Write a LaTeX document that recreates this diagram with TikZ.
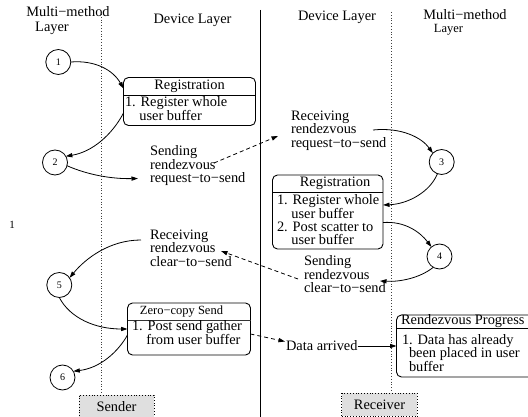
\documentclass[tikz,border=0pt]{standalone}
\usepackage{fontspec}
\setmainfont{Liberation Serif}
\usetikzlibrary{arrows.meta,calc}
\begin{document}
\begin{tikzpicture}[x=1pt,y=-1pt,
  every node/.style={inner sep=0pt, outer sep=0pt},
  txt/.style={font={\fontsize{14.4}{13.3}\selectfont}, align=left, anchor=north west},
  hdr/.style={font={\fontsize{14.4}{13.3}\selectfont}},
  smalltxt/.style={font={\fontsize{12.5}{12}\selectfont}},
  num/.style={circle, draw, line width=0.8pt, minimum size=25pt, font={\fontsize{10}{10}\selectfont}},
  box/.style={draw, line width=0.9pt, rounded corners=5pt, anchor=north west},
  arr/.style={line width=0.8pt, -{Triangle[length=6.5pt,width=4.2pt]}},
  darr/.style={arr, dash pattern=on 4pt off 3pt},
  sepline/.style={dotted, line width=0.8pt, black!75},
  tagbox/.style={draw, dotted, fill=gray!25, line width=0.8pt, anchor=north west, minimum height=23pt, font={\fontsize{14.4}{13}\selectfont}}
]
\useasboundingbox (0,0) rectangle (528,417);

% separators
\coordinate (ltop) at (101,14);
\coordinate (lbot) at (101,395);
\coordinate (mtop) at (260,10);
\coordinate (mbot) at (260,420);
\coordinate (rtop) at (391.5,12);
\coordinate (rbot) at (391.5,393);
\draw[sepline] (ltop) -- (lbot);
\draw[line width=0.9pt] (mtop) -- (mbot);
\draw[sepline] (rtop) -- (rbot);

% headers
\node[hdr] (mm1) at (68,12) {Multi−method};
\node[hdr] (ly1) at (52,28) {Layer};
\node[hdr] (dl1) at (192.5,20) {Device Layer};
\node[hdr] (dl2) at (337,17.5) {Device Layer};
\node[hdr] (mm2) at (465,14.5) {Multi−method};
\node[smalltxt] (ly2) at (448.5,30) {Layer};

% stray label
\node[font={\fontsize{11}{11}\selectfont}] (one) at (12,225) {1};

% circles
\node[num] (c1) at (58.3,62) {1};
\node[num] (c2) at (55,162.5) {2};
\node[num] (c3) at (441.7,162) {3};
\node[num] (c4) at (439.5,256.5) {4};
\node[num] (c5) at (59.3,285) {5};
\node[num] (c6) at (62.5,377.5) {6};

% Registration (sender)
\node[box, minimum width=132pt, minimum height=48pt] (reg1) at (123.5,77.5) {};
\draw[line width=0.9pt] ($(reg1.north west)+(0,17.5)$) -- ($(reg1.north east)+(0,17.5)$);
\node[hdr] (reg1h) at ($(reg1.north)+(0,9)$) {Registration};
\node[txt] (reg1b) at (125,97) {1. Register whole\\\hphantom{1.\ }user buffer};

% Registration (receiver)
\node[box, minimum width=110.5pt, minimum height=74pt] (reg2) at (272.5,175) {};
\draw[line width=0.9pt] ($(reg2.north west)+(0,17)$) -- ($(reg2.north east)+(0,17)$);
\node[hdr] (reg2h) at (335,183.5) {Registration};
\node[txt] (reg2b) at (277,195) {1. Register whole\\\hphantom{1.\ }user buffer\\2. Post scatter to\\\hphantom{2.\ }user buffer};

% Zero-copy Send
\node[box, minimum width=123pt, minimum height=52pt] (zc) at (127.5,303) {};
\draw[line width=1pt, black!80] ($(zc.north west)+(0,17)$) -- ($(zc.north east)+(0,17)$);
\node[smalltxt] (zch) at (181.5,311.5) {Zero−copy Send};
\node[txt] (zcb) at (132,321) {1. Post send gather\\\hphantom{1.\ }from user buffer};

% Rendezvous Progress
\node[box, minimum width=140pt, minimum height=62pt] (rp) at (396.5,315) {};
\draw[line width=0.9pt] ($(rp.north west)+(0,13)$) -- ($(rp.north east)+(0,13)$);
\node[hdr, anchor=west] (rph) at (401,321.5) {Rendezvous Progress};
\node[txt] (rpb) at (402,334.5) {1. Data has already\\\hspace*{7pt}been placed in user\\\hspace*{7pt}buffer};

% message texts
\node[txt] (snd1) at (150,146) {Sending\\rendezvous\\request−to−send};
\node[txt] (rcv1) at (291,111) {Receiving\\rendezvous\\request−to−send};
\node[txt] (rcv2) at (150,230) {Receiving\\rendezvous\\clear−to−send};
\node[txt] (snd2) at (304,256) {Sending\\rendezvous\\clear−to−send};
\node[hdr, anchor=west] (data) at (286,346) {Data arrived};

% Sender / Receiver tags
\node[tagbox, minimum width=75pt] (sender) at (79,395) {Sender};
\node[tagbox, minimum width=75.6pt] (receiver) at (341.7,393.3) {Receiver};

% free ends
\coordinate (a3e) at (138,178.5);
\coordinate (a4s) at (214,163);
\coordinate (a4e) at (278,136);
\coordinate (a5s) at (373,130);
\coordinate (a8e) at (380,281);
\coordinate (a9s) at (298,279);
\coordinate (a9e) at (221,251);
\coordinate (a10s) at (141,240);

% connectors
\draw[arr] (c1.east) .. controls (95,60) and (113,70) .. ($(reg1.north west)+(0,11)$);
\draw[arr] ($(reg1.north west)+(0,35.5)$) .. controls (112,135) and (92,152) .. (c2.30);
\draw[arr] (c2.-15) .. controls (88,175) and (112,179) .. (a3e);
\draw[darr] (a4s) -- (a4e);
\draw[arr] (a5s) .. controls (402,127) and (422,138) .. (c3.135);
\draw[arr] (c3.250) .. controls (430,192) and (408,204) .. ($(reg2.north east)+(0,30)$);
\draw[arr] ($(reg2.north east)+(0,47.5)$) .. controls (405,221) and (420,232) .. (c4.130);
\draw[arr] (c4.240) .. controls (420,278) and (400,282) .. (a8e);
\draw[darr] (a9s) -- (a9e);
\draw[arr] (a10s) .. controls (110,240) and (86,258) .. (c5.35);
\draw[arr] (c5.south) .. controls (70,318) and (95,329) .. ($(zc.north west)+(0,26)$);
\draw[arr] ($(zc.north west)+(0,32)$) .. controls (118,352) and (100,368) .. (c6.30);
\draw[darr] ($(zc.north east)+(0,31)$) -- ($(data.west)+(-1,-4.5)$);
\draw[arr] (data.east) -- (rp.west |- data.east);
\end{tikzpicture}
\end{document}
